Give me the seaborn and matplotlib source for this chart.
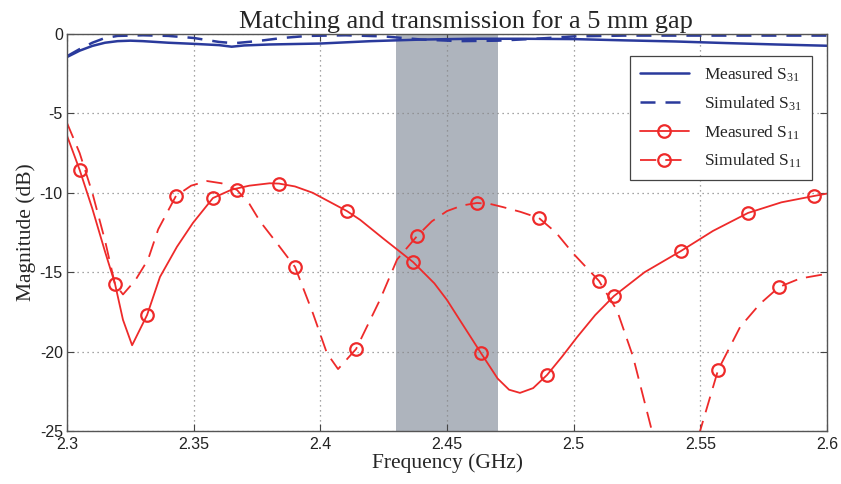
import numpy as np
import pandas as pd
import matplotlib
matplotlib.use("Agg")
import matplotlib.pyplot as plt
import seaborn as sns
from matplotlib.lines import Line2D

# --- datos ---
meas_s31_f = [2.300, 2.305, 2.310, 2.315, 2.320, 2.325, 2.330, 2.340, 2.350, 2.360, 2.365,
              2.370, 2.380, 2.400, 2.420, 2.440, 2.460, 2.480, 2.500, 2.520, 2.540, 2.560, 2.580, 2.600]
meas_s31_v = [-1.45, -1.05, -0.75, -0.55, -0.45, -0.42, -0.45, -0.55, -0.62, -0.70, -0.80,
              -0.72, -0.66, -0.60, -0.45, -0.35, -0.30, -0.30, -0.32, -0.40, -0.47, -0.57, -0.66, -0.74]

sim_s31_f = [2.300, 2.305, 2.310, 2.315, 2.320, 2.330, 2.340, 2.350, 2.360, 2.366, 2.375, 2.385,
             2.395, 2.410, 2.425, 2.440, 2.455, 2.470, 2.485, 2.500, 2.520, 2.550, 2.580, 2.600]
sim_s31_v = [-1.40, -0.95, -0.55, -0.25, -0.12, -0.08, -0.12, -0.25, -0.50, -0.58, -0.45, -0.25,
             -0.12, -0.08, -0.15, -0.35, -0.45, -0.42, -0.30, -0.15, -0.10, -0.10, -0.10, -0.10]

meas_s11_f = [2.300, 2.305, 2.310, 2.315, 2.3189, 2.3221, 2.3257, 2.3288, 2.3316, 2.3367, 2.3434,
              2.3497, 2.3576, 2.365, 2.372, 2.380, 2.3837, 2.390, 2.397, 2.4105, 2.4157, 2.425,
              2.4366, 2.445, 2.450, 2.455, 2.4634, 2.470, 2.4745, 2.4788, 2.484, 2.4895, 2.4955,
              2.5013, 2.5085, 2.5159, 2.528, 2.5424, 2.555, 2.5688, 2.582, 2.5949, 2.600]
meas_s11_v = [-6.4, -8.56, -11.0, -13.7, -15.7, -18.0, -19.6, -18.6, -17.7, -15.3, -13.4,
              -11.9, -10.33, -9.8, -9.55, -9.4, -9.42, -9.6, -10.0, -11.15, -11.7, -12.9,
              -14.36, -15.7, -16.75, -18.0, -20.09, -21.7, -22.4, -22.6, -22.3, -21.47, -20.3,
              -19.1, -17.7, -16.5, -15.0, -13.66, -12.4, -11.27, -10.6, -10.2, -10.05]

sim_s11_f = [2.300, 2.305, 2.310, 2.315, 2.3189, 2.3221, 2.327, 2.332, 2.336, 2.343, 2.349,
             2.3553, 2.361, 2.3671, 2.372, 2.3762, 2.383, 2.390, 2.3971, 2.4026, 2.407, 2.4141,
             2.4235, 2.4303, 2.4382, 2.444, 2.450, 2.456, 2.4618, 2.467, 2.4721, 2.479, 2.4863,
             2.493, 2.4997, 2.510, 2.5171, 2.5234, 2.5309, 2.536, 2.5405, 2.545, 2.5499, 2.557,
             2.5657, 2.5735, 2.5811, 2.5893, 2.600]
sim_s11_v = [-5.6, -7.5, -10.0, -13.0, -15.74, -16.4, -15.5, -14.2, -12.3, -10.2, -9.55,
             -9.26, -9.4, -9.82, -10.7, -11.8, -13.2, -14.67, -17.6, -20.1, -21.1, -19.84,
             -16.75, -14.2, -12.72, -11.8, -11.15, -10.8, -10.64, -10.7, -10.9, -11.2, -11.59,
             -12.5, -13.8, -15.55, -17.4, -20.3, -25.0, -28.0, -30.0, -27.7, -25.0, -21.16,
             -18.45, -17.0, -15.93, -15.4, -15.1]

# puntos donde van los circulos
meas_mk_f = [2.3051, 2.3316, 2.3576, 2.3837, 2.4105, 2.4366, 2.4634, 2.4895, 2.5159, 2.5424, 2.5688, 2.5949]
meas_mk_v = [-8.56, -17.70, -10.33, -9.45, -11.15, -14.36, -20.09, -21.47, -16.50, -13.66, -11.27, -10.20]
sim_mk_f = [2.3189, 2.3430, 2.3671, 2.3900, 2.4141, 2.4382, 2.4618, 2.4863, 2.5100, 2.5570, 2.5811]
sim_mk_v = [-15.74, -10.20, -9.82, -14.67, -19.84, -12.72, -10.64, -11.59, -15.55, -21.16, -15.93]

band = (2.43, 2.47)
xticks = [2.3, 2.35, 2.4, 2.45, 2.5, 2.55, 2.6]
yticks = [0, -5, -10, -15, -20, -25]

# ===============================================================
# estilo
# ===============================================================
sns.set_theme(style="ticks")
plt.rcParams['font.family'] = ['Liberation Sans', 'DejaVu Sans']
plt.rcParams['mathtext.fontset'] = 'custom'
plt.rcParams['mathtext.rm'] = 'Liberation Serif'
plt.rcParams['mathtext.it'] = 'Liberation Serif:italic'

blue = '#2a3a9c'
red = '#ee2a2a'
serif = ['Liberation Serif', 'DejaVu Serif']

fig = plt.figure(figsize=(8.41, 4.84), dpi=100)
ax = fig.add_axes([67/841, 1 - 431/484, 760/841, 397/484])

ax.axvspan(band[0], band[1], color='#aeb4bd', zorder=0.2, lw=0)

sns.lineplot(x=meas_s31_f, y=meas_s31_v, ax=ax, color=blue, lw=1.8, sort=False)
sns.lineplot(x=sim_s31_f, y=sim_s31_v, ax=ax, color=blue, lw=1.8, linestyle=(0, (6, 4)), sort=False)
sns.lineplot(x=meas_s11_f, y=meas_s11_v, ax=ax, color=red, lw=1.3, sort=False)
sns.lineplot(x=sim_s11_f, y=sim_s11_v, ax=ax, color=red, lw=1.3, linestyle=(0, (9, 5)), sort=False)
ax.plot(meas_mk_f, meas_mk_v, 'o', ms=9, mfc='none', mec=red, mew=1.6, zorder=3)
ax.plot(sim_mk_f, sim_mk_v, 'o', ms=9, mfc='none', mec=red, mew=1.6, zorder=3)

ax.set_xlim(2.3, 2.6)
ax.set_ylim(-25, 0)
ax.set_xticks(xticks)
ax.set_xticklabels([f"{t:g}" for t in xticks])
ax.set_yticks(yticks)
ax.set_yticklabels([f"{t:g}" for t in yticks])
ax.tick_params(direction='in', top=True, right=True, length=5, width=0.8,
               labelsize=11.5, colors='#444444', labelcolor='#222222')
ax.tick_params(axis='x', pad=4)
ax.tick_params(axis='y', pad=3)
ax.set_axisbelow(True)
ax.grid(True, linestyle=(0, (1, 3)), color='#888888', lw=0.9)
for s in ax.spines.values():
    s.set_color('#555555')
    s.set_linewidth(1.0)

ax.set_title("Matching and transmission for a 5 mm gap", family=serif, fontsize=19, pad=4, x=0.525)
ax.set_xlabel("Frequency (GHz)", family=serif, fontsize=15.5, labelpad=1)
ax.set_ylabel("Magnitude (dB)", family=serif, fontsize=15.5, labelpad=3)

handles = [
    Line2D([], [], color=blue, lw=1.8),
    Line2D([], [], color=blue, lw=1.8, linestyle=(0, (6, 4))),
    Line2D([], [], color=red, lw=1.3, marker='o', ms=9, mfc='none', mec=red, mew=1.6),
    Line2D([], [], color=red, lw=1.3, linestyle=(0, (9, 5)), marker='o', ms=9, mfc='none', mec=red, mew=1.6),
]
labels = ["Measured S$_{31}$", "Simulated S$_{31}$", "Measured S$_{11}$", "Simulated S$_{11}$"]
leg = ax.legend(handles, labels, loc='upper right', bbox_to_anchor=(0.980, 0.9446),
                borderaxespad=0, fancybox=False, framealpha=1, edgecolor='#444444',
                prop={'family': serif, 'size': 12.5}, handlelength=2.8, labelspacing=0.6,
                borderpad=0.55, handletextpad=0.9)
leg.get_frame().set_linewidth(0.9)

fig.savefig("out.png", dpi=100)
